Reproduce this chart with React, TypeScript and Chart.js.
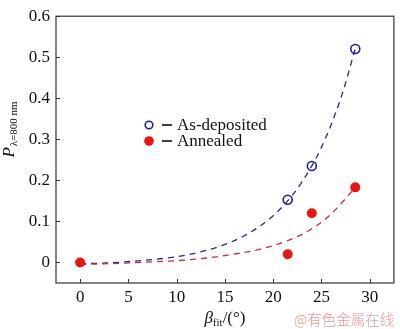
import React, { useEffect, useRef } from "react";
import { Chart, registerables } from "chart.js";

Chart.register(...registerables);

// ---- data ----
const xTickValues = [0, 5, 10, 15, 20, 25, 30];
const yTickValues = [0, 0.1, 0.2, 0.3, 0.4, 0.5, 0.6];

const asDepositedX = [21.5, 24, 28.5];
const asDepositedY = [0.153, 0.235, 0.52];

const annealedX = [0, 21.5, 24, 28.5];
const annealedY = [0, 0.02, 0.12, 0.183];

const asDepositedFitX = [0, 3, 6, 9, 12, 15, 17, 19, 21, 23, 25, 27, 28.5];
const asDepositedFitY = [-0.003, -0.001, 0.004, 0.011, 0.023, 0.044, 0.065, 0.095, 0.137, 0.197, 0.281, 0.4, 0.521];

const annealedFitX = [0, 4, 8, 12, 15, 18, 20, 22, 24, 26, 28.5];
const annealedFitY = [-0.005, -0.002, 0.002, 0.008, 0.017, 0.029, 0.041, 0.058, 0.082, 0.118, 0.183];

const legendLabels = ["As-deposited", "Annealed"];

const BLUE = "#1c1ca8";
const RED = "#e81515";
const SERIF = "'Liberation Serif', 'Times New Roman', serif";

const zip = (xs: number[], ys: number[]) => xs.map((x, i) => ({ x, y: ys[i] }));

const decorPlugin = {
  id: "decor",
  afterDraw(chart: any) {
    const { ctx, chartArea } = chart;
    const xs = chart.scales.x;
    const ys = chart.scales.y;
    ctx.save();
    // frame
    ctx.strokeStyle = "#333";
    ctx.lineWidth = 1.2;
    ctx.strokeRect(chartArea.left, chartArea.top, chartArea.right - chartArea.left, chartArea.bottom - chartArea.top);
    // inward ticks
    ctx.beginPath();
    xTickValues.forEach((v) => {
      const px = Math.round(xs.getPixelForValue(v)) + 0.5;
      ctx.moveTo(px, chartArea.bottom);
      ctx.lineTo(px, chartArea.bottom - 4);
    });
    yTickValues.forEach((v) => {
      const py = Math.round(ys.getPixelForValue(v)) + 0.5;
      ctx.moveTo(chartArea.left, py);
      ctx.lineTo(chartArea.left + 4, py);
    });
    ctx.lineWidth = 1;
    ctx.stroke();

    // x title: β_fit/(°)
    ctx.fillStyle = "#111";
    ctx.textBaseline = "alphabetic";
    const big = `17px ${SERIF}`;
    const bigI = `italic 17px ${SERIF}`;
    const small = `11px ${SERIF}`;
    ctx.font = bigI;
    const wB = ctx.measureText("β").width;
    ctx.font = small;
    const wF = ctx.measureText("fit").width;
    ctx.font = big;
    const wR = ctx.measureText("/(°)").width;
    const total = wB + wF + wR;
    const cx = (chartArea.left + chartArea.right) / 2;
    let x0 = cx - total / 2;
    const base = 323;
    ctx.textAlign = "left";
    ctx.font = bigI;
    ctx.fillText("β", x0, base);
    x0 += wB;
    ctx.font = small;
    ctx.fillText("fit", x0, base + 3);
    x0 += wF;
    ctx.font = big;
    ctx.fillText("/(°)", x0, base);

    // y title: P_{λ=800 nm}
    ctx.save();
    ctx.translate(14, 130);
    ctx.rotate(-Math.PI / 2);
    ctx.font = bigI;
    const wP = ctx.measureText("P").width;
    ctx.font = small;
    const wS = ctx.measureText("λ=800 nm").width;
    let y0 = -(wP + wS) / 2;
    ctx.font = bigI;
    ctx.fillText("P", y0, 0);
    y0 += wP + 1;
    ctx.font = small;
    ctx.fillText("λ=800 nm", y0, 3);
    ctx.restore();

    // legend
    const lx = 149;
    const ly = [125, 141];
    ctx.lineWidth = 1.6;
    ctx.strokeStyle = BLUE;
    ctx.beginPath();
    ctx.arc(lx, ly[0], 3.8, 0, Math.PI * 2);
    ctx.stroke();
    ctx.fillStyle = RED;
    ctx.beginPath();
    ctx.arc(lx, ly[1], 4.8, 0, Math.PI * 2);
    ctx.fill();
    ctx.fillStyle = "#111";
    ctx.font = `17px ${SERIF}`;
    ctx.textBaseline = "middle";
    legendLabels.forEach((lab, i) => {
      ctx.fillRect(162, ly[i] - 0.8, 10, 1.6);
      ctx.fillText(lab, 177, ly[i] + 0.5);
    });
    ctx.restore();
  },
};

export default function App() {
  const ref = useRef<HTMLCanvasElement>(null);
  useEffect(() => {
    document.body.style.margin = "0";
    const canvas = ref.current!;
    const chart = new Chart(canvas, {
      type: "scatter",
      data: {
        datasets: [
          {
            label: "As-deposited fit",
            data: zip(asDepositedFitX, asDepositedFitY),
            showLine: true,
            borderColor: "#2424a4",
            borderWidth: 1.3,
            borderDash: [6, 5],
            pointRadius: 0,
            cubicInterpolationMode: "monotone",
            order: 4,
          } as any,
          {
            label: "Annealed fit",
            data: zip(annealedFitX, annealedFitY),
            showLine: true,
            borderColor: "#d02a2a",
            borderWidth: 1.3,
            borderDash: [6, 5],
            pointRadius: 0,
            cubicInterpolationMode: "monotone",
            order: 3,
          } as any,
          {
            label: "As-deposited",
            data: zip(asDepositedX, asDepositedY),
            pointRadius: 4.5,
            pointBorderWidth: 1.6,
            pointBorderColor: BLUE,
            pointBackgroundColor: "rgba(255,255,255,0)",
            order: 2,
          },
          {
            label: "Annealed",
            data: zip(annealedX, annealedY),
            pointRadius: 5,
            pointBorderWidth: 0,
            pointBorderColor: RED,
            pointBackgroundColor: RED,
            order: 1,
          },
        ],
      },
      options: {
        animation: false,
        responsive: false,
        maintainAspectRatio: false,
        layout: { padding: { top: 6, right: 2, left: 0, bottom: 0 } },
        plugins: { legend: { display: false }, tooltip: { enabled: false } },
        scales: {
          x: {
            type: "linear",
            min: -2.5,
            max: 32.5,
            grid: { display: false, drawTicks: false },
            border: { display: false },
            afterBuildTicks: (s: any) => {
              s.ticks = xTickValues.map((v) => ({ value: v }));
            },
            afterFit: (s: any) => {
              s.height = 46;
            },
            ticks: {
              padding: 4,
              color: "#111",
              font: { family: SERIF, size: 17 },
              callback: (v: any) => String(v),
            },
          },
          y: {
            type: "linear",
            min: -0.05,
            max: 0.6,
            grid: { display: false, drawTicks: false },
            border: { display: false },
            afterBuildTicks: (s: any) => {
              s.ticks = yTickValues.map((v) => ({ value: v }));
            },
            afterFit: (s: any) => {
              s.width = 56;
            },
            ticks: {
              padding: 6,
              color: "#111",
              font: { family: SERIF, size: 17 },
              callback: (v: any) => String(Number(Number(v).toFixed(1))),
            },
          },
        },
      },
      plugins: [decorPlugin],
    });
    return () => chart.destroy();
  }, []);

  return (
    <div style={{ position: "relative", width: 400, height: 329, background: "#fff" }}>
      <canvas ref={ref} width={400} height={329} style={{ display: "block", width: 400, height: 329 }} />
      <div
        style={{
          position: "absolute",
          left: 294,
          top: 310,
          fontFamily: "'Noto Sans CJK SC', sans-serif",
          fontSize: 14.5,
          lineHeight: "17px",
          color: "rgba(232,120,120,0.8)",
          whiteSpace: "nowrap",
          fontWeight: 300,
        }}
      >
        @有色金属在线
      </div>
    </div>
  );
}
